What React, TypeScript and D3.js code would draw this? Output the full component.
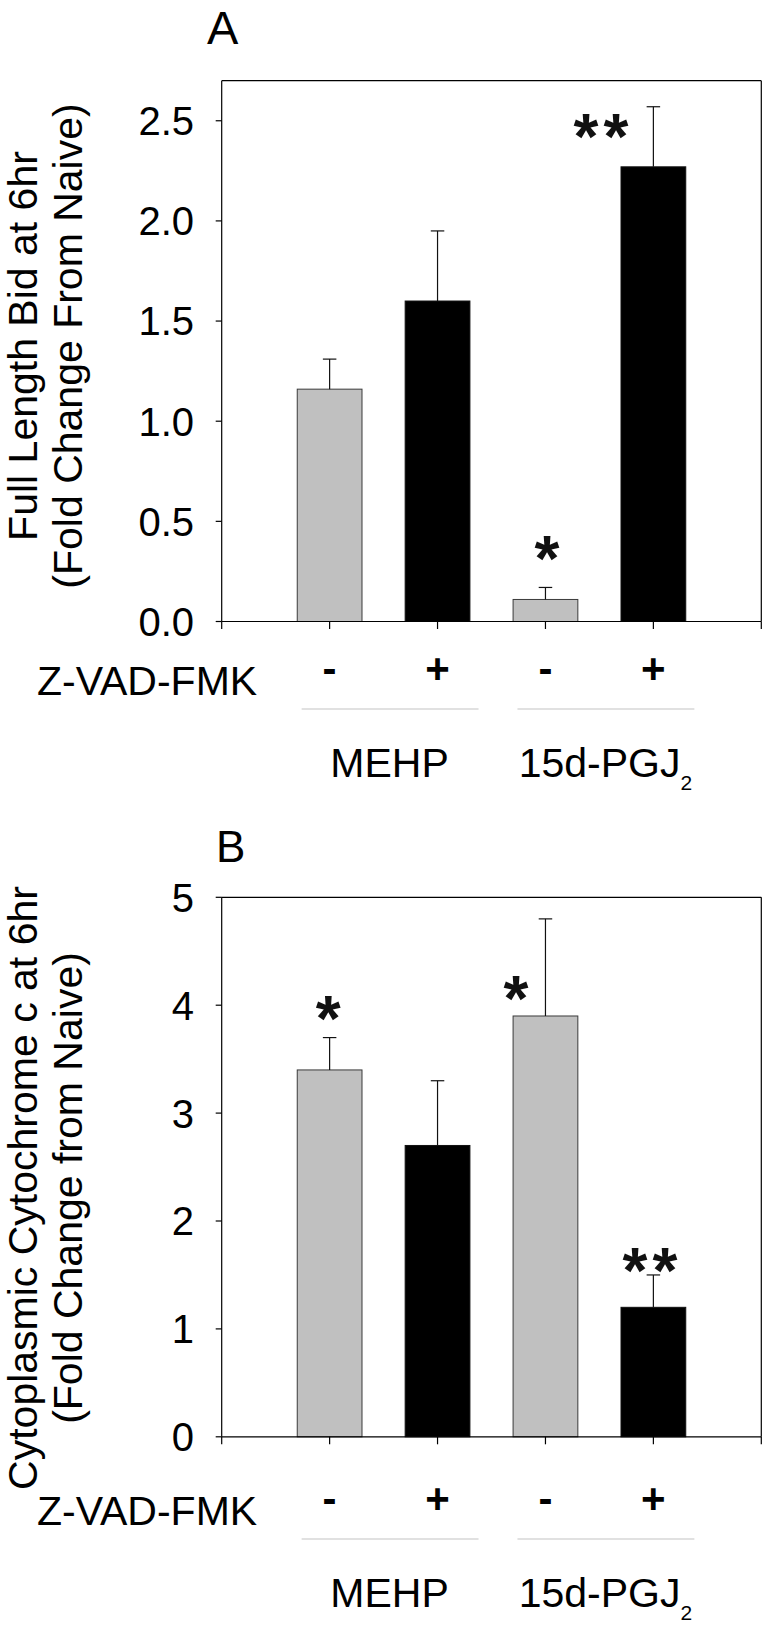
import React from "react";
import * as d3 from "d3";

// ---------- data ----------
const treatments = ["-", "+", "-", "+"]; // Z-VAD-FMK
const groupNames = ["MEHP", "15d-PGJ"];
const groupSubs = ["", "2"];
const rowLabel = "Z-VAD-FMK";

const bidMeans = [1.16, 1.6, 0.11, 2.27];
const bidErrors = [0.15, 0.35, 0.06, 0.3];
const bidTicks = [0, 0.5, 1.0, 1.5, 2.0, 2.5];
const bidSig = ["", "", "*", "**"];

const cytoMeans = [3.4, 2.7, 3.9, 1.2];
const cytoErrors = [0.3, 0.6, 0.9, 0.3];
const cytoTicks = [0, 1, 2, 3, 4, 5];
const cytoSig = ["*", "", "*", "**"];

const FONT = "'Liberation Sans', Arial, Helvetica, sans-serif";
const GRAY = "#c0c0c0";
const BLACK = "#000000";
const barFill = [GRAY, BLACK, GRAY, BLACK];

type PanelProps = {
  letter: string;
  letterX: number;
  letterY: number;
  letterSize: number;
  yZero: number;
  yTop: number;
  yMax: number;
  ticks: number[];
  fmt: (v: number) => string;
  means: number[];
  errors: number[];
  sig: string[];
  sigLayout: { dx: number; bottom: number }[];
  title: string[];
  titleCenter: number;
  labelShift: number;
};

function Panel(p: PanelProps) {
  const x = d3.scaleLinear().domain([0, 5]).range([221.7, 761.3]);
  const y = d3.scaleLinear().domain([0, p.yMax]).range([p.yZero, p.yTop]);
  const bw = x(0.6) - x(0);
  const capW = 13.5;
  const asterSize = 64;
  const L = p.labelShift;
  return (
    <g>
      <text x={p.letterX} y={p.letterY} fontSize={p.letterSize} fontFamily={FONT}>
        {p.letter}
      </text>
      {p.title.map((t, i) => (
        <text
          key={i}
          transform={`translate(${37 + i * 45},${p.titleCenter}) rotate(-90)`}
          textAnchor="middle"
          fontSize={41}
          fontFamily={FONT}
        >
          {t}
        </text>
      ))}
      {p.means.map((m, i) => (
        <rect
          key={i}
          x={x(i + 1) - bw / 2}
          y={y(m)}
          width={bw}
          height={y(0) - y(m)}
          fill={barFill[i]}
          stroke={barFill[i] === BLACK ? "#111" : "#3a3a3a"}
          strokeWidth={1}
        />
      ))}
      {p.means.map((m, i) => (
        <g key={i} stroke="#111" strokeWidth={1.2}>
          <line x1={x(i + 1)} x2={x(i + 1)} y1={y(m)} y2={y(m + p.errors[i])} />
          <line
            x1={x(i + 1) - capW / 2}
            x2={x(i + 1) + capW / 2}
            y1={y(m + p.errors[i])}
            y2={y(m + p.errors[i])}
          />
        </g>
      ))}
      {p.sig.map((s, i) =>
        s ? (
          <text
            key={i}
            x={x(i + 1) + p.sigLayout[i].dx}
            y={y(p.means[i] + p.errors[i]) + p.sigLayout[i].bottom + asterSize * 0.4}
            textAnchor="middle"
            fontSize={asterSize}
            fontWeight="bold"
            fontFamily={FONT}
            letterSpacing={5}
            fill="#111"
          >
            {s}
          </text>
        ) : null
      )}
      <g stroke="#000" strokeWidth={1.2} fill="none">
        <line x1={x(0)} x2={x(5)} y1={y(p.yMax)} y2={y(p.yMax)} />
        <line x1={x(5)} x2={x(5)} y1={y(p.yMax)} y2={y(0)} />
        <line x1={x(0)} x2={x(0)} y1={y(p.yMax)} y2={y(0)} />
        <line x1={x(0)} x2={x(5)} y1={y(0)} y2={y(0)} />
        {d3.range(0, 6).map((t) => (
          <line key={t} x1={x(t)} x2={x(t)} y1={y(0)} y2={y(0) + 7.5} />
        ))}
        {p.ticks.map((t) => (
          <line key={t} x1={x(0) - 6} x2={x(0)} y1={y(t)} y2={y(t)} />
        ))}
      </g>
      {p.ticks.map((t) => (
        <text
          key={t}
          x={194}
          y={y(t)}
          dy="0.36em"
          textAnchor="end"
          fontSize={40}
          fontFamily={FONT}
        >
          {p.fmt(t)}
        </text>
      ))}
      <text x={37} y={695 + L} fontSize={41} fontFamily={FONT}>
        {rowLabel}
      </text>
      {treatments.map((t, i) => (
        <text
          key={i}
          x={x(i + 1)}
          y={683 + L}
          textAnchor="middle"
          fontSize={42}
          fontWeight="bold"
          fontFamily={FONT}
        >
          {t}
        </text>
      ))}
      {groupNames.map((g, gi) => {
        const a = x(gi * 2 + 1);
        const b = x(gi * 2 + 2);
        return (
          <g key={gi}>
            <line x1={a - 28} x2={b + 41} y1={709 + L} y2={709 + L} stroke="#c4c4c4" strokeWidth={1.2} />
            <text
              x={(a + b) / 2 + 6}
              y={777 + L}
              textAnchor="middle"
              fontSize={41}
              fontFamily={FONT}
            >
              {g}
              {groupSubs[gi] ? (
                <tspan fontSize={21} dy={13}>
                  {groupSubs[gi]}
                </tspan>
              ) : null}
            </text>
          </g>
        );
      })}
    </g>
  );
}

export default function App() {
  return (
    <svg
      width={772}
      height={1629}
      style={{ position: "absolute", left: 0, top: 0, background: "#fff" }}
    >
      <rect width={772} height={1629} fill="#fff" />
      <Panel
        letter="A"
        letterX={207}
        letterY={44}
        letterSize={47}
        yZero={621.5}
        yTop={80.7}
        yMax={2.7}
        ticks={bidTicks}
        fmt={(v) => d3.format(".1f")(v)}
        means={bidMeans}
        errors={bidErrors}
        sig={bidSig}
        sigLayout={[
          { dx: 0, bottom: -25 },
          { dx: 0, bottom: -25 },
          { dx: 4, bottom: -32 },
          { dx: -50, bottom: 27 },
        ]}
        title={["Full Length Bid at 6hr", "(Fold Change From Naive)"]}
        titleCenter={346}
        labelShift={0}
      />
      <Panel
        letter="B"
        letterX={216}
        letterY={862}
        letterSize={44}
        yZero={1436.8}
        yTop={897.3}
        yMax={5}
        ticks={cytoTicks}
        fmt={(v) => String(v)}
        means={cytoMeans}
        errors={cytoErrors}
        sig={cytoSig}
        sigLayout={[
          { dx: 1, bottom: -22 },
          { dx: 0, bottom: -22 },
          { dx: -27, bottom: 77 },
          { dx: -1, bottom: -8 },
        ]}
        title={["Cytoplasmic Cytochrome c at 6hr", "(Fold Change from Naive)"]}
        titleCenter={1188}
        labelShift={830}
      />
    </svg>
  );
}
